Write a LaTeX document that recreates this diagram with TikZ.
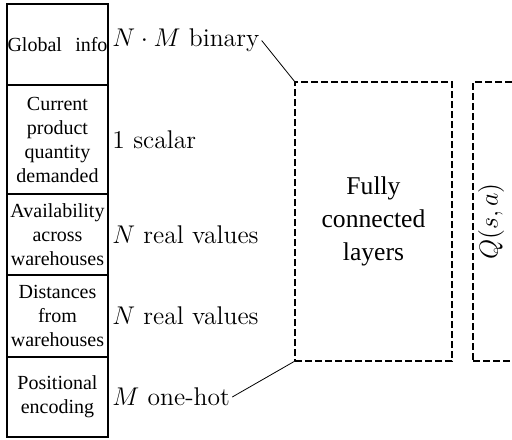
\RequirePackage{fix-cm}
\documentclass[tikz,border=0pt]{standalone}
\usepackage{fontspec}
\newfontfamily\timesfont{LiberationSerif}[Extension=.ttf,UprightFont=*-Regular]
\usetikzlibrary{positioning}
\tikzstyle{inbox}=[draw,line width=.6pt,outer sep=0pt,inner sep=0pt,minimum width=50.5pt,text width=50pt,align=center,font=\timesfont\fontsize{10}{12}\selectfont]
\tikzstyle{dim}=[inner sep=1pt,font=\fontsize{12.8}{15}\selectfont]
\tikzstyle{layer}=[draw,dash pattern=on 3.5pt off 1.5pt,line width=.6pt,outer sep=0pt,anchor=north west,minimum height=139.5pt]
\tikzstyle{conn}=[line width=.4pt]

\begin{document}
\begin{tikzpicture}[x=.5pt,y=-.5pt]
  \useasboundingbox (0,0) rectangle (512,439);
  \clip (0,0) rectangle (512,439);
  % state features
  \node[inbox,minimum height=40.5pt,anchor=north west] (glob) at (7,4) {Global~~info};
  \node[inbox,minimum height=54.5pt,below=0pt of glob] (dem) {Current\\product\\quantity\\demanded};
  \node[inbox,minimum height=40.5pt,below=0pt of dem] (avail) {Availability\\across\\warehouses};
  \node[inbox,minimum height=41pt,below=0pt of avail] (dist) {Distances\\from\\warehouses};
  \node[inbox,minimum height=40pt,below=0pt of dist] (pos) {Positional\\encoding};
  % sizes
  \node[dim,right=1pt of glob,yshift=2pt] (globsz) {$N\cdot M$ binary};
  \node[dim,right=1pt of dem] (demsz) {$1$ scalar};
  \node[dim,right=1pt of avail] (availsz) {$N$ real values};
  \node[dim,right=1pt of dist] (distsz) {$N$ real values};
  \node[dim,right=1pt of pos] (possz) {$M$ one-hot};
  % network
  \node[layer,minimum width=78.5pt,align=center,font=\timesfont\fontsize{12.8}{16.5}\selectfont] (fc) at (295,82) {Fully\\connected\\layers};
  \node[layer,minimum width=40pt] (out) at (473,82) {};
  \node[rotate=90,font=\fontsize{13}{15}\selectfont] (qval) at ([xshift=9pt]out.west) {$Q(s,a)$};
  \draw[conn] (globsz.east) -- (fc.north west);
  \draw[conn] (possz.east) -- (fc.south west);
\end{tikzpicture}
\end{document}
